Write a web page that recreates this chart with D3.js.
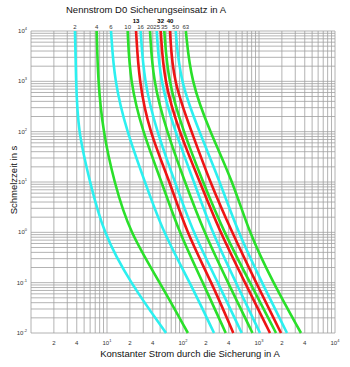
<!DOCTYPE html>
<html><head><meta charset="utf-8">
<script src="https://cdn.jsdelivr.net/npm/d3@7"></script>
<style>body{margin:0;background:#fff}svg{display:block}</style>
</head><body>
<svg id="c" width="350" height="367"></svg>
<script>
// melting times (s) at which currents are read
const times = [1e4, 1e3, 1e2, 1e1, 1, 0.1, 0.01];
// rated currents (A)
const ratings = [2, 4, 6, 10, 13, 16, 20, 25, 32, 35, 40, 50, 63];
const colorsByRating = ["cyan","green","cyan","green","red","cyan","green","cyan","red","green","red","cyan","green"];
const boldLabels = [13, 32, 40];
// currents (A) at each time above, per fuse
const I2  = [3.79, 3.91, 4.15, 5.97, 8.86, 20.1, 59.8];
const I4  = [7.32, 7.61, 8.86, 12.4, 19.8, 49.8, 116];
const I6  = [11.3, 12.5, 18.2, 31.6, 54.6, 124, 256];
const I10 = [18.7, 20.1, 29.3, 52.5, 88.6, 183, 365];
const I13 = [24.1, 26.4, 36.0, 67.4, 111, 239, 459];
const I16 = [27.7, 30.7, 45.1, 78.5, 135, 289, 592];
const I20 = [36.8, 40.3, 61.1, 106, 189, 391, 821];
const I25 = [45.1, 49.8, 78.5, 140, 241, 498, 1031];
const I32 = [50.9, 56.2, 88.6, 167, 307, 654, 1395];
const I35 = [56.7, 63.5, 101, 183, 346, 762, 1674];
const I40 = [67.4, 73.9, 130, 226, 441, 914, 1947];
const I50 = [80.2, 91.4, 164, 307, 529, 1094, 2335];
const I63 = [109, 127, 226, 455, 738, 1528, 3570];
const currents = [I2, I4, I6, I10, I13, I16, I20, I25, I32, I35, I40, I50, I63];
const xTicksLabeled = [2, 4, 10, 20, 40, 100, 200, 400, 1000, 2000, 4000, 10000];
const yTicksLabeled = [1e-2, 1e-1, 1, 1e1, 1e2, 1e3, 1e4];
const title = "Nennstrom D0 Sicherungseinsatz in A";
const xTitle = "Konstanter Strom durch die Sicherung in A";
const yTitle = "Schmelzzeit in s";

const palette = {cyan: "#2cf0f0", green: "#2ae02a", red: "#ee1414"};
const font = "'Liberation Sans', Arial, sans-serif";

const svg = d3.select("#c");
const x = d3.scaleLog().domain([1, 1e4]).range([31, 335]);
const y = d3.scaleLog().domain([1e-2, 1e4]).range([333, 31]);

// grid
const xGrid = [], yGrid = [];
for (let e = 0; e < 4; e++) for (let k = 1; k < 10; k++) xGrid.push(k * Math.pow(10, e));
xGrid.push(1e4);
for (let e = -2; e < 4; e++) for (let k = 1; k < 10; k++) yGrid.push(k * Math.pow(10, e));
yGrid.push(1e4);
const g = svg.append("g");
g.selectAll("line.vx").data(xGrid).join("line")
  .attr("x1", d => x(d)).attr("x2", d => x(d))
  .attr("y1", y(1e4)).attr("y2", y(1e-2))
  .attr("stroke", "#a0a0a0").attr("stroke-width", 0.8);
g.selectAll("line.hy").data(yGrid).join("line")
  .attr("y1", d => y(d)).attr("y2", d => y(d))
  .attr("x1", x(1)).attr("x2", x(1e4))
  .attr("stroke", "#a0a0a0").attr("stroke-width", 0.8);

// curves
const line = d3.line().x(d => x(d[0])).y(d => y(d[1])).curve(d3.curveBasis);
currents.forEach((arr, i) => {
  svg.append("path")
    .datum(arr.map((c, j) => [c, times[j]]))
    .attr("d", line)
    .attr("fill", "none")
    .attr("stroke", palette[colorsByRating[i]])
    .attr("stroke-width", 2.6);
});

// top labels
ratings.forEach((r, i) => {
  const bold = boldLabels.includes(r);
  svg.append("text")
    .attr("x", x(currents[i][0]))
    .attr("y", bold ? 22.5 : 28.5)
    .attr("text-anchor", "middle")
    .attr("font-family", font)
    .attr("font-size", 6)
    .attr("font-weight", bold ? "bold" : "normal")
    .attr("fill", bold ? "#000" : "#333")
    .text(r);
});

// tick labels
function supLabel(sel, v) {
  const e = Math.floor(Math.log10(v) + 1e-9);
  const m = Math.round(v / Math.pow(10, e));
  if (m === 1) {
    sel.append("tspan").text("10");
    sel.append("tspan").attr("dy", -3).attr("font-size", 4).text(e);
  } else {
    sel.text(m);
  }
}
xTicksLabeled.forEach(v => {
  const t = svg.append("text")
    .attr("x", x(v)).attr("y", 345)
    .attr("text-anchor", "middle")
    .attr("font-family", font).attr("font-size", 6).attr("fill", "#333");
  supLabel(t, v);
});
yTicksLabeled.forEach(v => {
  const t = svg.append("text")
    .attr("x", 27).attr("y", y(v) + 2)
    .attr("text-anchor", "end")
    .attr("font-family", font).attr("font-size", 6).attr("fill", "#333");
  supLabel(t, v);
});

// titles
svg.append("text").attr("x", 146).attr("y", 13)
  .attr("text-anchor", "middle").attr("font-family", font).attr("font-size", 9.5)
  .attr("fill", "#111").text(title);
svg.append("text").attr("x", 190).attr("y", 357)
  .attr("text-anchor", "middle").attr("font-family", font).attr("font-size", 9.5)
  .attr("fill", "#111").text(xTitle);
svg.append("text").attr("transform", "translate(17,180) rotate(-90)")
  .attr("text-anchor", "middle").attr("font-family", font).attr("font-size", 9.5)
  .attr("fill", "#111").text(yTitle);
</script>
</body></html>
